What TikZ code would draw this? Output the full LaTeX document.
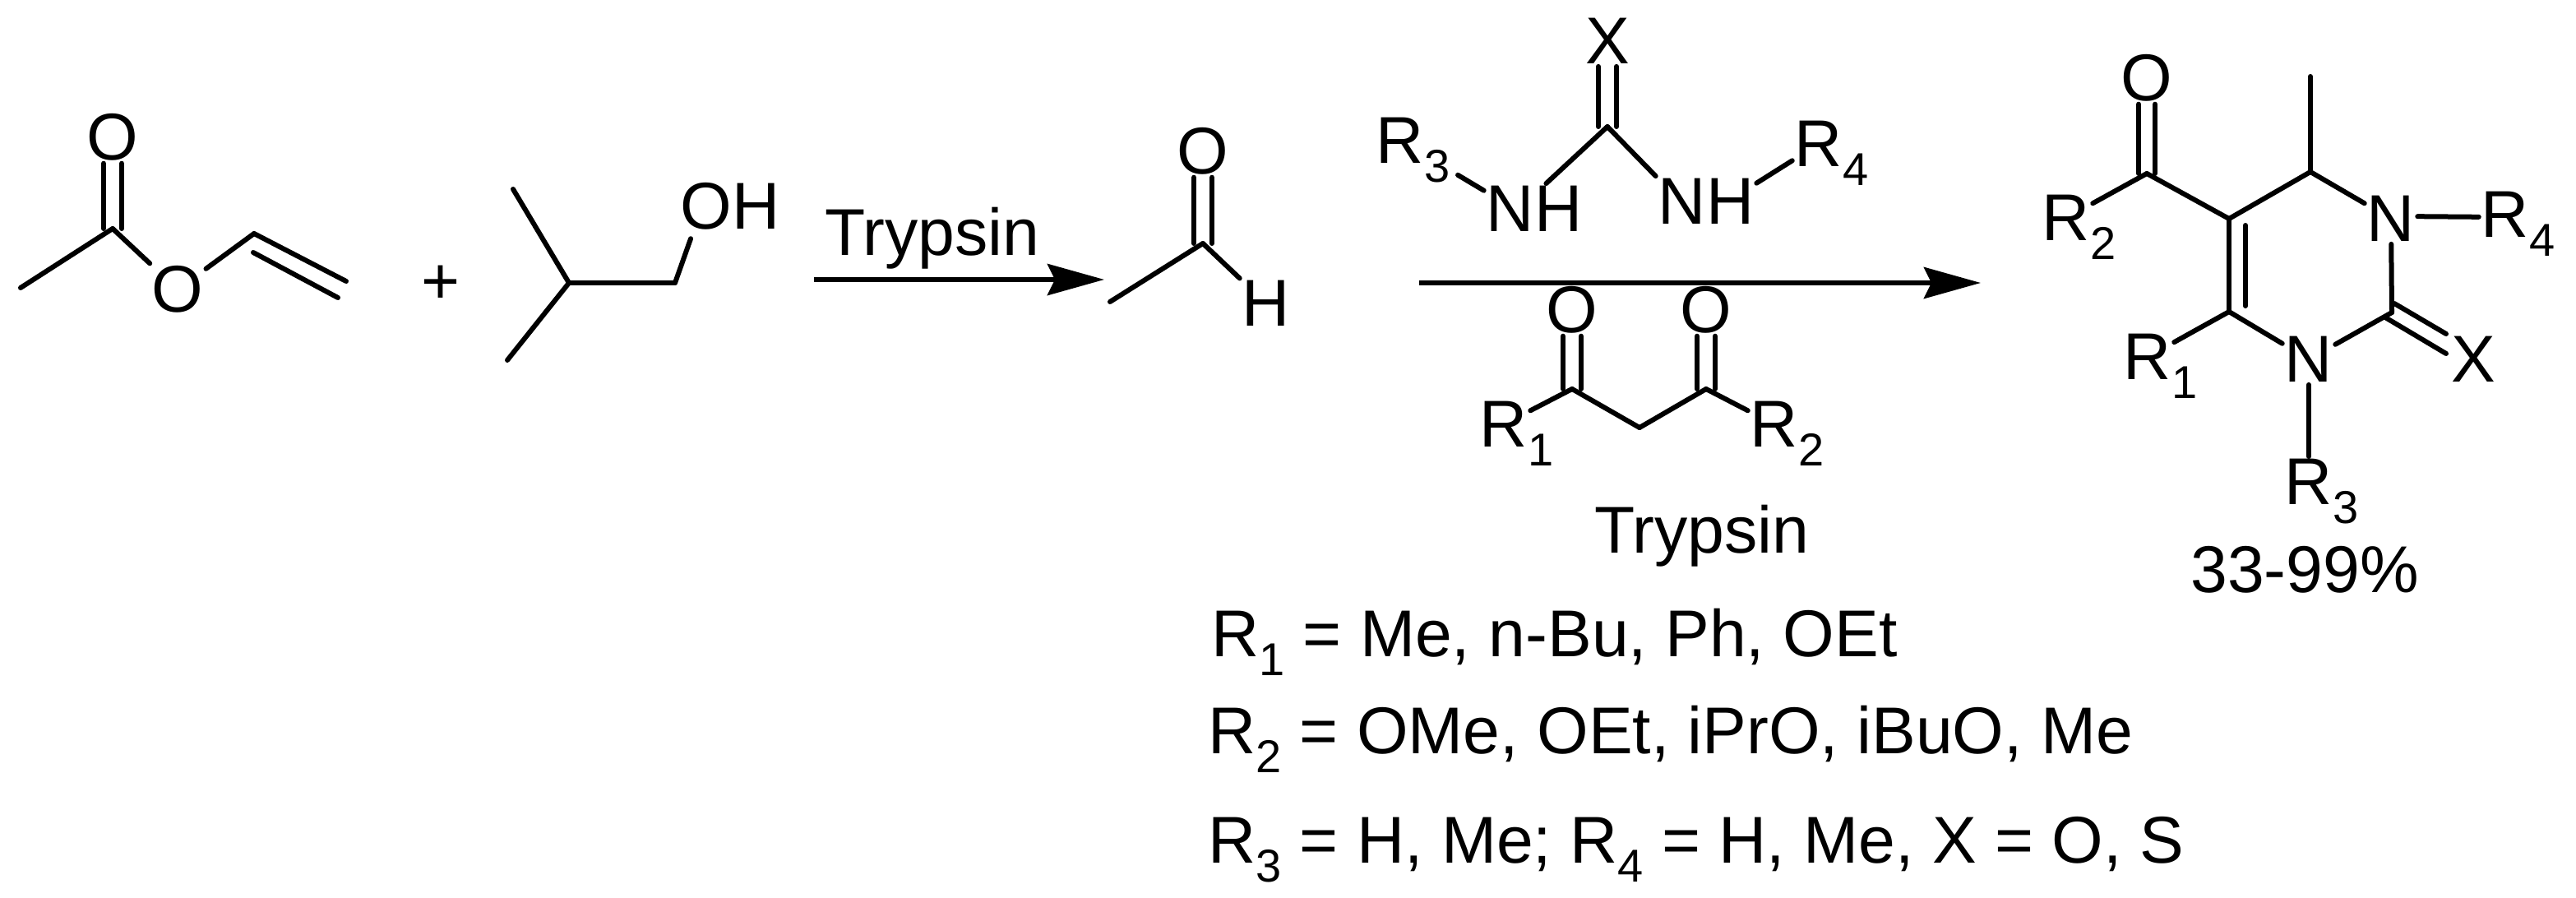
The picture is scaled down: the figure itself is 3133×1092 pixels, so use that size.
\documentclass[tikz,border=0pt]{standalone}
\usepackage{fontspec}
\setmainfont{Liberation Sans}
\usetikzlibrary{arrows.meta}

\newcommand{\subs}[1]{\smash{\raisebox{-23pt}{\fontsize{56pt}{56pt}\selectfont #1}}}
\newcommand{\Rs}[1]{R\rlap{\subs{#1}}}

\tikzset{
    atom/.style={inner sep=3pt,font=\fontsize{80.5pt}{80.5pt}\selectfont},
    legend/.style={atom,inner sep=0pt,anchor=base west},
    bond/.style={line width=6pt,line cap=round,line join=round},
    dblL/.style={bond,transform canvas={xshift=-11pt}},
    dblR/.style={bond,transform canvas={xshift=11pt}},
    rxn/.style={line width=6pt,-{Stealth[length=69pt,width=38pt,inset=9pt]}}
}

\begin{document}
\begin{tikzpicture}[x=1pt,y=-1pt]
    \useasboundingbox (0,0) rectangle (3133,1092);

    % vinyl acetate
    \coordinate (me_a) at (25,350);
    \coordinate (c_a) at (137,278);
    \coordinate (ch_v) at (309,284);
    \coordinate (ch2_v) at (421,342);
    \coordinate (in1_v) at (308,307);
    \coordinate (in2_v) at (411,362);
    \node[atom] (o_a) at (137,167) {O};
    \node[atom] (o_e) at (216,352) {O};
    \path[bond]
        (me_a) edge (c_a)
        (c_a) edge (o_e)
        (o_e) edge (ch_v)
        (ch_v) edge (ch2_v)
        (in1_v) edge (in2_v)
    ;
    \draw[dblL] (o_a) -- (c_a);
    \draw[dblR] (o_a) -- (c_a);

    \node[atom] (plus) at (536,346) {+};

    % isobutanol
    \coordinate (me1_b) at (624,230);
    \coordinate (me2_b) at (617,438);
    \coordinate (ch_b) at (692,344);
    \coordinate (ch2_b) at (821,344);
    \node[atom] (oh_b) at (888,251) {OH};
    \path[bond]
        (me1_b) edge (ch_b)
        (me2_b) edge (ch_b)
        (ch_b) edge (ch2_b)
        (ch2_b) edge[shorten >=8pt] (oh_b.-145)
    ;

    % first arrow
    \coordinate (a1_s) at (990,340);
    \coordinate (a1_e) at (1343,340);
    \draw[rxn] (a1_s) -- (a1_e);
    \node[atom,anchor=base] (tryp1) at (1134,310) {Trypsin};

    % acetaldehyde
    \coordinate (me_c) at (1350,367);
    \coordinate (c_c) at (1463,296);
    \node[atom] (o_c) at (1463,184) {O};
    \node[atom] (h_c) at (1540,369) {H};
    \path[bond]
        (me_c) edge (c_c)
        (c_c) edge (h_c)
    ;
    \draw[dblL] (o_c) -- (c_c);
    \draw[dblR] (o_c) -- (c_c);

    % urea
    \coordinate (c_u) at (1955,154);
    \node[atom] (x_u) at (1955,50) {X};
    \node[atom] (nh1_u) at (1866,254) {NH};
    \node[atom] (nh2_u) at (2075,245) {NH};
    \node[atom] (r3_u) at (1703,171) {\Rs{3}};
    \node[atom] (r4_u) at (2212,175) {\Rs{4}};
    \path[bond]
        (c_u) edge (nh1_u.65)
        (c_u) edge (nh2_u.north west)
        (nh1_u.160) edge[shorten >=44pt] (r3_u)
        (nh2_u.20) edge (r4_u)
    ;
    \draw[dblL] (x_u) -- (c_u);
    \draw[dblR] (x_u) -- (c_u);

    % second arrow
    \coordinate (a2_s) at (1726,344);
    \coordinate (a2_e) at (2409,344);
    \draw[rxn] (a2_s) -- (a2_e);

    % diketone
    \coordinate (c1_d) at (1912,473);
    \coordinate (c2_d) at (2075,473);
    \coordinate (ch2_d) at (1994,520);
    \node[atom] (o1_d) at (1912,377) {O};
    \node[atom] (o2_d) at (2075,377) {O};
    \node[atom] (r1_d) at (1829,516) {\Rs{1}};
    \node[atom] (r2_d) at (2158,516) {\Rs{2}};
    \path[bond]
        (r1_d) edge (c1_d)
        (c1_d) edge (ch2_d)
        (ch2_d) edge (c2_d)
        (c2_d) edge (r2_d)
    ;
    \draw[dblL] (o1_d) -- (c1_d);
    \draw[dblR] (o1_d) -- (c1_d);
    \draw[dblL] (o2_d) -- (c2_d);
    \draw[dblR] (o2_d) -- (c2_d);
    \node[atom,anchor=base] (tryp2) at (2070,672) {Trypsin};

    % product
    \coordinate (c_p) at (2611,211);
    \coordinate (c5_p) at (2711,266);
    \coordinate (c6_p) at (2711,379);
    \coordinate (c4_p) at (2810,209);
    \coordinate (me_p) at (2810,93);
    \coordinate (c2_p) at (2909,380);
    \coordinate (in5_p) at (2731,274);
    \coordinate (in6_p) at (2731,372);
    \coordinate (x1_p) at (2912,369);
    \coordinate (x2_p) at (2975,406);
    \coordinate (x3_p) at (2901,386);
    \coordinate (x4_p) at (2975,430);
    \node[atom] (o_p) at (2611,95) {O};
    \node[atom] (n1_p) at (2908,266) {N};
    \node[atom] (n2_p) at (2808,437) {N};
    \node[atom] (x_p) at (3008,437) {X};
    \node[atom] (r1_p) at (2612,434) {\Rs{1}};
    \node[atom] (r2_p) at (2513,265) {\Rs{2}};
    \node[atom] (r3_p) at (2808,586) {\Rs{3}};
    \node[atom] (r4_p) at (3047,261) {\Rs{4}};
    \path[bond]
        (r2_p) edge (c_p)
        (c_p) edge (c5_p)
        (c5_p) edge (c4_p)
        (me_p) edge (c4_p)
        (c4_p) edge (n1_p)
        (n1_p.5) edge (r4_p.185)
        (n1_p) edge (c2_p)
        (c2_p) edge (n2_p)
        (n2_p) edge (c6_p)
        (c6_p) edge (c5_p)
        (in5_p) edge (in6_p)
        (c6_p) edge (r1_p)
        (n2_p) edge (r3_p)
        (x1_p) edge (x2_p)
        (x3_p) edge (x4_p)
    ;
    \draw[bond,transform canvas={xshift=-10pt}] (o_p) -- (c_p);
    \draw[bond,transform canvas={xshift=10pt}] (o_p) -- (c_p);
    \node[atom] (yield) at (2803,693) {33-99\%};

    % substituents
    \node[legend] (leg1) at (1473,798) {R\subs{1} = Me, n-Bu, Ph, OEt};
    \node[legend] (leg2) at (1469,916) {R\subs{2} = OMe, OEt, iPrO, iBuO, Me};
    \node[legend] (leg3) at (1469,1049) {R\subs{3} = H, Me; R\subs{4} = H, Me, X = O, S};
\end{tikzpicture}
\end{document}
